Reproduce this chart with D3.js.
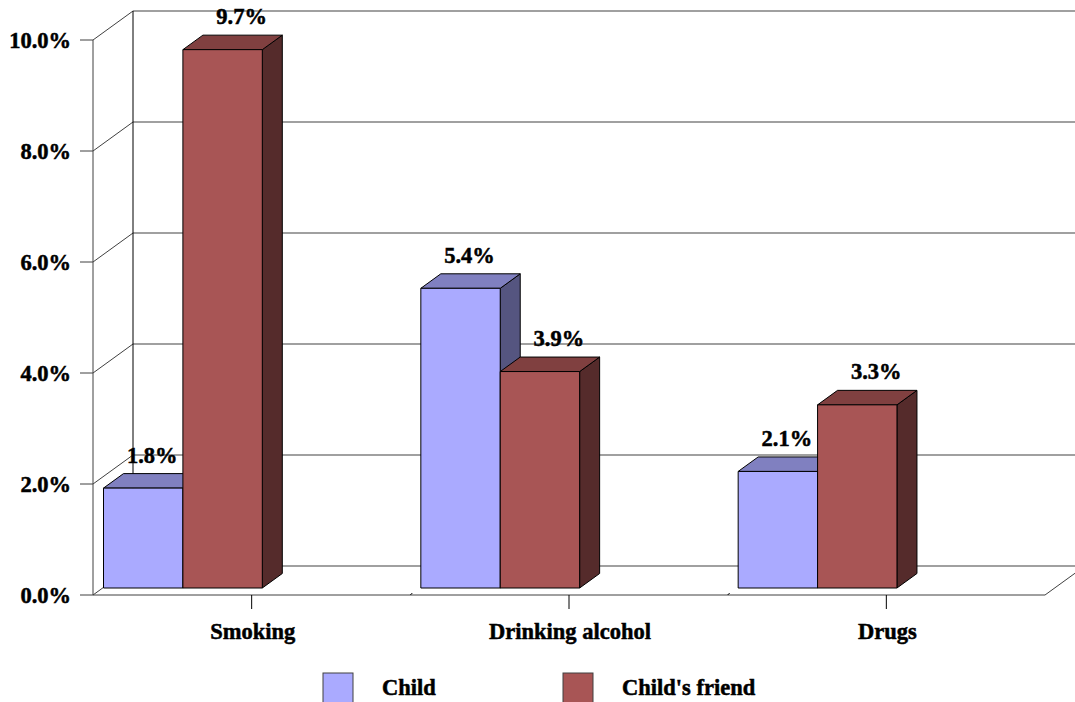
<!DOCTYPE html>
<html>
<head>
<meta charset="utf-8">
<script src="https://cdn.jsdelivr.net/npm/d3@7"></script>
<style>
  body { margin: 0; background: #fff; }
  svg text { font-family: "Liberation Serif", "Times New Roman", serif; font-weight: bold; font-size: 22.5px; fill: #000; stroke: #000; stroke-width: 0.5px; }
</style>
</head>
<body>
<div id="chart"></div>
<script>
// chart data
var categories = ["Smoking", "Drinking alcohol", "Drugs"];
var seriesNames = ["Child", "Child's friend"];
var childValues = [1.8, 5.4, 2.1];
var friendValues = [9.7, 3.9, 3.3];
var yTicks = [0, 2, 4, 6, 8, 10];

var series = [
    { name: seriesNames[0], values: childValues, front: "#aaaaff", top: "#8080c0", side: "#555580", labelShift: 9 },
    { name: seriesNames[1], values: friendValues, front: "#a85555", top: "#804040", side: "#552b2b", labelShift: 19 }
];

var width = 1075, height = 702;
// note: "top" is a reserved global in browsers, so use plotTop etc.
var plotLeft = 93, plotRight = 1045, plotBottom = 595, plotTop = 40;
var wallDx = 40, wallDy = -29;      // depth of the floor / side wall
var barDy = -7;                     // bar front plane sits a bit behind the axis plane
var depthDx = 20, depthDy = -14.5;  // bar thickness
var barInset = 10.5, barW = 79.4;

var svg = d3.select("#chart").append("svg")
    .attr("width", width)
    .attr("height", height);

var y = d3.scaleLinear().domain([0, 10]).range([plotBottom, plotTop]);
var x = d3.scaleBand().domain(categories).range([plotLeft, plotRight]);

var line = d3.line();

// back wall gridlines
svg.append("g").selectAll("line")
    .data(yTicks)
    .enter().append("line")
    .attr("x1", plotLeft + wallDx).attr("x2", width + 10)
    .attr("y1", function (d) { return y(d) + wallDy; })
    .attr("y2", function (d) { return y(d) + wallDy; })
    .attr("stroke", "#808080")
    .attr("stroke-width", 1.5);

// side wall
var wall = svg.append("g").attr("stroke", "#404040").attr("fill", "none");
wall.selectAll("line.diag")
    .data(yTicks)
    .enter().append("line")
    .attr("class", "diag")
    .attr("x1", plotLeft).attr("x2", plotLeft + wallDx)
    .attr("y1", function (d) { return y(d); })
    .attr("y2", function (d) { return y(d) + wallDy; });
wall.append("line")
    .attr("x1", plotLeft).attr("x2", plotLeft)
    .attr("y1", y(10)).attr("y2", y(0));
wall.append("line")
    .attr("x1", plotLeft + wallDx).attr("x2", plotLeft + wallDx)
    .attr("y1", y(10) + wallDy).attr("y2", y(0) + wallDy)
    .attr("stroke", "#000");

// floor
wall.append("path")
    .attr("d", line([[plotLeft, y(0)], [plotRight, y(0)], [plotRight + wallDx, y(0) + wallDy]]));

// y ticks and labels
var yAxis = svg.append("g");
yAxis.selectAll("line")
    .data(yTicks)
    .enter().append("line")
    .attr("x1", plotLeft - 13).attr("x2", plotLeft)
    .attr("y1", function (d) { return y(d); })
    .attr("y2", function (d) { return y(d); })
    .attr("stroke", "#404040");
yAxis.selectAll("text")
    .data(yTicks)
    .enter().append("text")
    .attr("x", 71)
    .attr("y", function (d) { return y(d); })
    .attr("dy", "0.36em")
    .attr("text-anchor", "end")
    .text(function (d) { return d3.format(".1f")(d) + "%"; });

// bars
var bars = svg.append("g").attr("stroke", "#000").attr("stroke-width", 1).attr("stroke-linejoin", "round");
var labels = svg.append("g");

categories.forEach(function (cat, ci) {
    series.forEach(function (s, si) {
        var v = s.values[ci];
        var x0 = x(cat) + barInset + si * barW;
        var x1 = x0 + barW;
        var y0 = y(0) + barDy;
        var y1 = y(v) + barDy;
        var g = bars.append("g");
        g.append("path")
            .attr("fill", s.side)
            .attr("d", line([[x1, y1], [x1 + depthDx, y1 + depthDy], [x1 + depthDx, y0 + depthDy], [x1, y0]]) + "Z");
        g.append("path")
            .attr("fill", s.top)
            .attr("d", line([[x0, y1], [x0 + depthDx, y1 + depthDy], [x1 + depthDx, y1 + depthDy], [x1, y1]]) + "Z");
        g.append("rect")
            .attr("fill", s.front)
            .attr("x", x0).attr("y", y1)
            .attr("width", barW).attr("height", y0 - y1);

        labels.append("text")
            .attr("x", (x0 + x1) / 2 + s.labelShift)
            .attr("y", y1 + depthDy - 11)
            .attr("text-anchor", "middle")
            .text(d3.format(".1f")(v) + "%");
    });
});

// category axis ticks and labels
var xAxis = svg.append("g");
xAxis.selectAll("line.tick")
    .data(categories)
    .enter().append("line")
    .attr("class", "tick")
    .attr("x1", function (d) { return x(d) + x.bandwidth() / 2; })
    .attr("x2", function (d) { return x(d) + x.bandwidth() / 2; })
    .attr("y1", y(0)).attr("y2", y(0) + 14)
    .attr("stroke", "#000");
xAxis.selectAll("line.sep")
    .data(categories.slice(1))
    .enter().append("line")
    .attr("class", "sep")
    .attr("x1", function (d) { return x(d); })
    .attr("x2", function (d) { return x(d) + 2; })
    .attr("y1", y(0)).attr("y2", y(0) - 2)
    .attr("stroke", "#000");
xAxis.selectAll("text")
    .data(categories)
    .enter().append("text")
    .attr("x", function (d) { return x(d) + x.bandwidth() / 2 + 1; })
    .attr("y", 639)
    .attr("text-anchor", "middle")
    .text(function (d) { return d; });

// legend
var legend = svg.append("g").selectAll("g")
    .data(series)
    .enter().append("g")
    .attr("transform", function (d, i) { return "translate(" + (323 + i * 240) + ",673)"; });
legend.append("rect")
    .attr("width", 30).attr("height", 36)
    .attr("fill", function (d) { return d.front; })
    .attr("stroke", "#404040");
legend.append("text")
    .attr("x", 59).attr("y", 22)
    .text(function (d) { return d.name; });
</script>
</body>
</html>
